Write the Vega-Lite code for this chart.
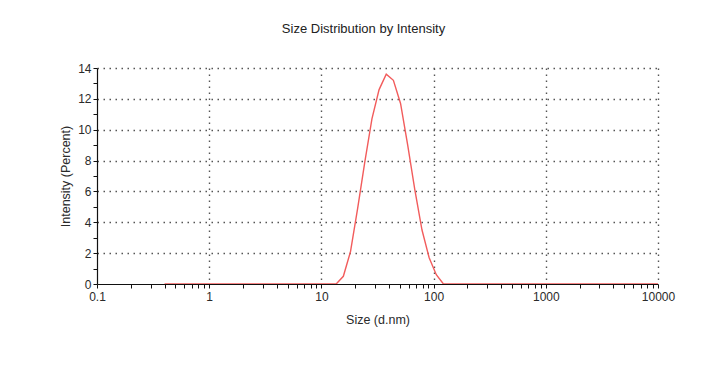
{
  "$schema": "https://vega.github.io/schema/vega-lite/v6.json",
  "autosize": {"type": "none"},
  "width": 561,
  "height": 216,
  "padding": {"left": 97, "top": 68, "right": 69, "bottom": 105},
  "background": "white",
  "title": {
    "text": "Size Distribution by Intensity",
    "font": "Liberation Sans",
    "fontSize": 13,
    "fontWeight": "normal",
    "color": "#222",
    "anchor": "middle",
    "dx": -14,
    "offset": 26
  },
  "config": {
    "view": {"stroke": null},
    "axis": {
      "labelFont": "Liberation Sans",
      "titleFont": "Liberation Sans",
      "labelFontSize": 12,
      "titleFontSize": 12.5,
      "titleFontWeight": "normal",
      "labelColor": "#2a2a2a",
      "titleColor": "#2a2a2a",
      "domainColor": "#111",
      "domainWidth": 1.2,
      "tickColor": "#111",
      "gridColor": "#555",
      "gridWidth": 1.4,
      "gridDash": [1.5, 4.5]
    }
  },
  "data": {
    "values": [
      {"size": 0.4, "intensity": 0}, {"size": 0.4632, "intensity": 0}, {"size": 0.5365, "intensity": 0},
      {"size": 0.6213, "intensity": 0}, {"size": 0.7195, "intensity": 0}, {"size": 0.8332, "intensity": 0},
      {"size": 0.9649, "intensity": 0}, {"size": 1.117, "intensity": 0}, {"size": 1.294, "intensity": 0},
      {"size": 1.499, "intensity": 0}, {"size": 1.736, "intensity": 0}, {"size": 2.01, "intensity": 0},
      {"size": 2.328, "intensity": 0}, {"size": 2.696, "intensity": 0}, {"size": 3.122, "intensity": 0},
      {"size": 3.615, "intensity": 0}, {"size": 4.187, "intensity": 0}, {"size": 4.849, "intensity": 0},
      {"size": 5.615, "intensity": 0}, {"size": 6.503, "intensity": 0}, {"size": 7.531, "intensity": 0},
      {"size": 8.721, "intensity": 0}, {"size": 10.1, "intensity": 0}, {"size": 11.7, "intensity": 0},
      {"size": 13.54, "intensity": 0}, {"size": 15.69, "intensity": 0.5}, {"size": 18.17, "intensity": 2.1},
      {"size": 21.04, "intensity": 4.9}, {"size": 24.36, "intensity": 7.9}, {"size": 28.21, "intensity": 10.7},
      {"size": 32.67, "intensity": 12.6}, {"size": 37.84, "intensity": 13.6}, {"size": 43.82, "intensity": 13.2},
      {"size": 50.75, "intensity": 11.7}, {"size": 58.77, "intensity": 9.0}, {"size": 68.06, "intensity": 6.1},
      {"size": 78.82, "intensity": 3.5}, {"size": 91.28, "intensity": 1.7}, {"size": 105.7, "intensity": 0.6},
      {"size": 122.4, "intensity": 0}, {"size": 141.8, "intensity": 0}, {"size": 164.2, "intensity": 0},
      {"size": 190.1, "intensity": 0}, {"size": 220.2, "intensity": 0}, {"size": 255.0, "intensity": 0},
      {"size": 295.3, "intensity": 0}, {"size": 342.0, "intensity": 0}, {"size": 396.1, "intensity": 0},
      {"size": 458.7, "intensity": 0}, {"size": 531.2, "intensity": 0}, {"size": 615.1, "intensity": 0},
      {"size": 712.4, "intensity": 0}, {"size": 825.0, "intensity": 0}, {"size": 955.4, "intensity": 0},
      {"size": 1106, "intensity": 0}, {"size": 1281, "intensity": 0}, {"size": 1484, "intensity": 0},
      {"size": 1718, "intensity": 0}, {"size": 1990, "intensity": 0}, {"size": 2305, "intensity": 0},
      {"size": 2669, "intensity": 0}, {"size": 3091, "intensity": 0}, {"size": 3580, "intensity": 0},
      {"size": 4145, "intensity": 0}, {"size": 4801, "intensity": 0}, {"size": 5560, "intensity": 0},
      {"size": 6439, "intensity": 0}, {"size": 7456, "intensity": 0}, {"size": 8635, "intensity": 0},
      {"size": 10000, "intensity": 0}
    ]
  },
  "mark": {"type": "line", "color": "#f25c5c", "strokeWidth": 1.4, "clip": true},
  "encoding": {
    "x": {
      "field": "size",
      "type": "quantitative",
      "scale": {"type": "log", "domain": [0.1, 10000], "nice": false},
      "axis": {
        "title": "Size (d.nm)",
        "titlePadding": 11,
        "values": [0.1, 0.2, 0.3, 0.4, 0.5, 0.6, 0.7, 0.8, 0.9,
                   1, 2, 3, 4, 5, 6, 7, 8, 9,
                   10, 20, 30, 40, 50, 60, 70, 80, 90,
                   100, 200, 300, 400, 500, 600, 700, 800, 900,
                   1000, 2000, 3000, 4000, 5000, 6000, 7000, 8000, 9000, 10000],
        "labelExpr": "abs(round(log(datum.value)/LN10) - log(datum.value)/LN10) < 0.001 ? (datum.value < 1 ? '0.1' : format(datum.value, 'd')) : ''",
        "tickSize": 4,
        "labelPadding": 3,
        "labelOverlap": false,
        "labelFlush": false,
        "gridOpacity": {"condition": {"test": "abs(round(log(datum.value)/LN10) - log(datum.value)/LN10) < 0.001 && datum.value > 0.11", "value": 1}, "value": 0}
      }
    },
    "y": {
      "field": "intensity",
      "type": "quantitative",
      "scale": {"domain": [0, 14], "nice": false},
      "axis": {
        "title": "Intensity (Percent)",
        "titlePadding": 5,
        "values": [0, 1, 2, 3, 4, 5, 6, 7, 8, 9, 10, 11, 12, 13, 14],
        "labelExpr": "datum.value % 2 === 0 ? datum.label : ''",
        "tickSize": 4,
        "labelPadding": 2,
        "labelOverlap": false,
        "gridOpacity": {"condition": {"test": "datum.value % 2 === 0 && datum.value > 0", "value": 1}, "value": 0}
      }
    }
  }
}
